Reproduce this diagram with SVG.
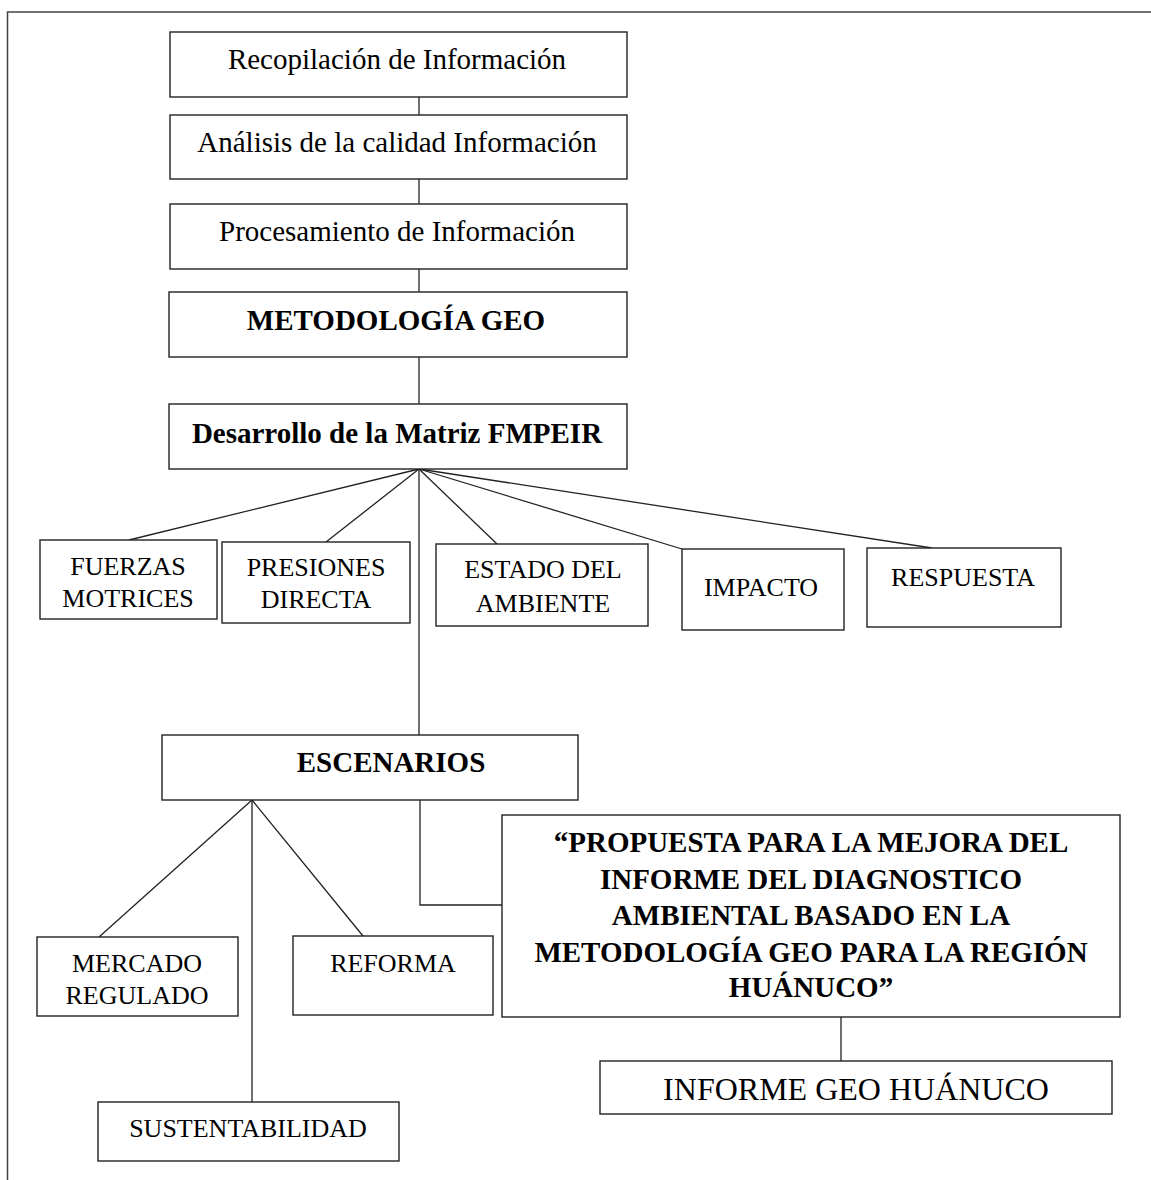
<svg xmlns="http://www.w3.org/2000/svg" width="1151" height="1180" viewBox="0 0 1151 1180">
  <style>
    .box { fill: #ffffff; stroke: #222222; stroke-width: 1.4; }
    .conn { fill: none; stroke: #222222; stroke-width: 1.3; }
    .frame { fill: none; stroke: #444444; stroke-width: 1.5; }
    text { font-family: "Liberation Serif", "Times New Roman", serif; fill: #000000; text-anchor: middle; }
    .t29 { font-size: 29px; }
    .b29 { font-size: 29px; font-weight: bold; }
    .t26 { font-size: 26px; }
    .t32 { font-size: 32px; }
  </style>
  <rect width="1151" height="1180" fill="#ffffff"/>

  <!-- page frame -->
  <path class="frame" d="M7.5,1180 V12 H1151"/>

  <g id="connectors">
    <line class="conn" x1="419" y1="97" x2="419" y2="115"/>
    <line class="conn" x1="419" y1="179" x2="419" y2="204"/>
    <line class="conn" x1="419" y1="269" x2="419" y2="292"/>
    <line class="conn" x1="419" y1="357" x2="419" y2="404"/>
    <!-- FMPEIR fan -->
    <line class="conn" x1="419" y1="469" x2="129" y2="540"/>
    <line class="conn" x1="419" y1="469" x2="326" y2="542"/>
    <line class="conn" x1="419" y1="469" x2="497" y2="544"/>
    <line class="conn" x1="419" y1="469" x2="682" y2="549"/>
    <line class="conn" x1="419" y1="469" x2="932" y2="548"/>
    <line class="conn" x1="419" y1="469" x2="419" y2="735"/>
    <!-- scenarios fan -->
    <line class="conn" x1="252" y1="800" x2="99" y2="937"/>
    <line class="conn" x1="252" y1="800" x2="363" y2="936"/>
    <line class="conn" x1="252" y1="800" x2="252" y2="1102"/>
    <path class="conn" d="M420,800 V905 H502"/>
    <line class="conn" x1="841" y1="1017" x2="841" y2="1061"/>
  </g>

  <g id="recopilacion">
    <rect class="box" x="170" y="32" width="457" height="65"/>
    <text class="t29" x="397" y="69">Recopilación de Información</text>
  </g>
  <g id="analisis">
    <rect class="box" x="170" y="115" width="457" height="64"/>
    <text class="t29" x="397" y="152">Análisis de la calidad Información</text>
  </g>
  <g id="procesamiento">
    <rect class="box" x="170" y="204" width="457" height="65"/>
    <text class="t29" x="397" y="241">Procesamiento de Información</text>
  </g>
  <g id="metodologia">
    <rect class="box" x="169" y="292" width="458" height="65"/>
    <text class="b29" x="396" y="330">METODOLOGÍA GEO</text>
  </g>
  <g id="matriz">
    <rect class="box" x="169" y="404" width="458" height="65"/>
    <text class="b29" x="397" y="443">Desarrollo de la Matriz FMPEIR</text>
  </g>

  <g id="fuerzas">
    <rect class="box" x="40" y="540" width="177" height="79"/>
    <text class="t26" x="128" y="575">FUERZAS</text>
    <text class="t26" x="128" y="607">MOTRICES</text>
  </g>
  <g id="presiones">
    <rect class="box" x="222" y="542" width="188" height="81"/>
    <text class="t26" x="316" y="576">PRESIONES</text>
    <text class="t26" x="316" y="608">DIRECTA</text>
  </g>
  <g id="estado">
    <rect class="box" x="436" y="544" width="212" height="82"/>
    <text class="t26" x="543" y="578">ESTADO DEL</text>
    <text class="t26" x="543" y="612">AMBIENTE</text>
  </g>
  <g id="impacto">
    <rect class="box" x="682" y="549" width="162" height="81"/>
    <text class="t26" x="761" y="596">IMPACTO</text>
  </g>
  <g id="respuesta">
    <rect class="box" x="867" y="548" width="194" height="79"/>
    <text class="t26" x="963" y="586">RESPUESTA</text>
  </g>

  <g id="escenarios">
    <rect class="box" x="162" y="735" width="416" height="65"/>
    <text class="b29" x="391" y="772">ESCENARIOS</text>
  </g>
  <g id="mercado">
    <rect class="box" x="37" y="937" width="201" height="79"/>
    <text class="t26" x="137" y="972">MERCADO</text>
    <text class="t26" x="137" y="1004">REGULADO</text>
  </g>
  <g id="reforma">
    <rect class="box" x="293" y="936" width="200" height="79"/>
    <text class="t26" x="393" y="972">REFORMA</text>
  </g>
  <g id="sustentabilidad">
    <rect class="box" x="98" y="1102" width="301" height="59"/>
    <text class="t26" x="248" y="1137">SUSTENTABILIDAD</text>
  </g>

  <g id="propuesta">
    <rect class="box" x="502" y="815" width="618" height="202"/>
    <text class="b29" x="811" y="852">“PROPUESTA PARA LA MEJORA DEL</text>
    <text class="b29" x="811" y="889">INFORME DEL DIAGNOSTICO</text>
    <text class="b29" x="811" y="925">AMBIENTAL BASADO EN LA</text>
    <text class="b29" x="811" y="962">METODOLOGÍA GEO PARA LA REGIÓN</text>
    <text class="b29" x="811" y="997">HUÁNUCO”</text>
  </g>
  <g id="informe">
    <rect class="box" x="600" y="1061" width="512" height="53"/>
    <text class="t32" x="856" y="1100">INFORME GEO HUÁNUCO</text>
  </g>
</svg>
